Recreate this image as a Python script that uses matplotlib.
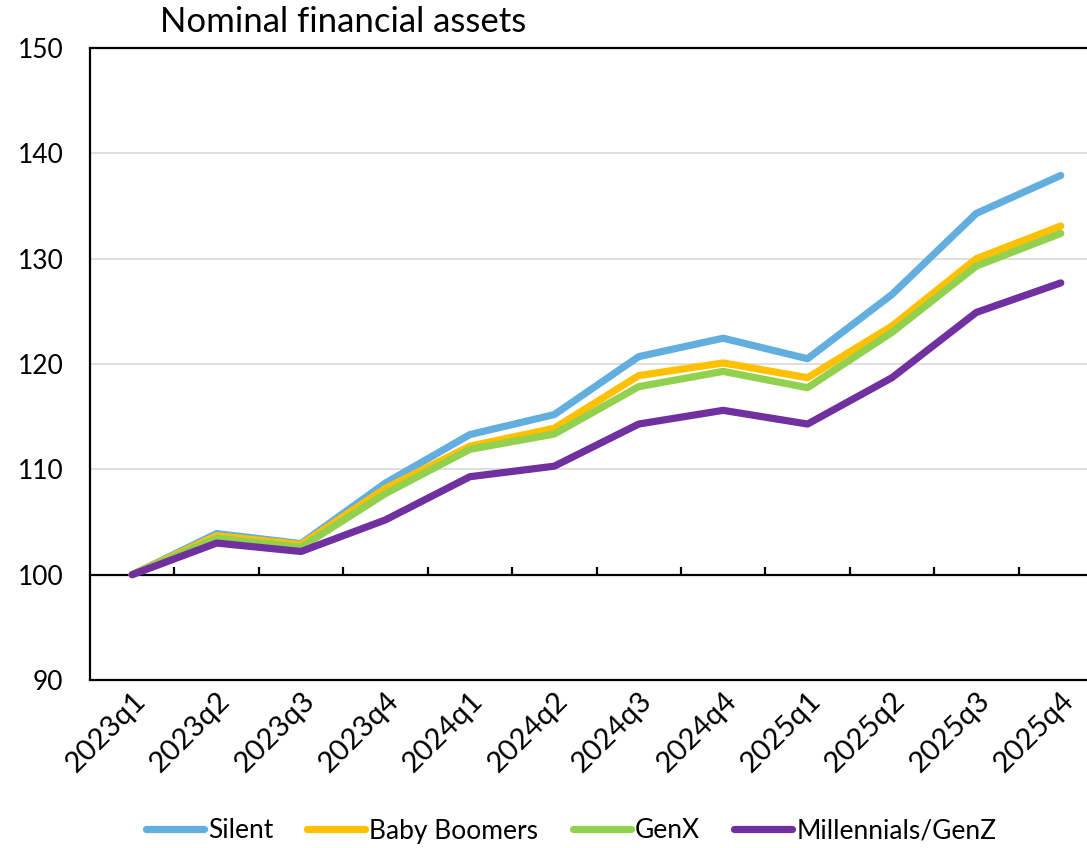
import matplotlib
matplotlib.use('Agg')
import matplotlib.pyplot as plt
import numpy as np

plt.rcParams['font.family'] = ['Lato', 'DejaVu Sans']

quarters = ['2023q1', '2023q2', '2023q3', '2023q4', '2024q1', '2024q2',
            '2024q3', '2024q4', '2025q1', '2025q2', '2025q3', '2025q4']
silent = [100, 103.9, 102.95, 108.7, 113.3, 115.2, 120.7, 122.45, 120.5, 126.6, 134.3, 137.9]
boomers = [100, 103.7, 102.85, 108.2, 112.2, 113.9, 118.9, 120.1, 118.7, 123.6, 130.0, 133.1]
genx = [100, 103.45, 102.6, 107.7, 111.9, 113.35, 117.85, 119.3, 117.75, 123.0, 129.3, 132.4]
millennials = [100, 103.0, 102.2, 105.2, 109.3, 110.3, 114.3, 115.6, 114.3, 118.7, 124.9, 127.7]

series_names = ['Silent', 'Baby Boomers', 'GenX', 'Millennials/GenZ']
series_values = [silent, boomers, genx, millennials]
colors = ['#62AEDF', '#FFC000', '#92D050', '#7030A0']

y_ticks = [90, 100, 110, 120, 130, 140, 150]
baseline = 100
title = 'Nominal financial assets'

W, H = 1087, 848
fig = plt.figure(figsize=(W / 100, H / 100), dpi=100)
ax = fig.add_axes([90 / W, 1 - 680 / H, 1013 / W, 632 / H])

x = np.arange(len(quarters))
for name, vals, c in zip(series_names, series_values, colors):
    ax.plot(x, vals, color=c, lw=5.2, label=name, solid_capstyle='round',
            solid_joinstyle='round', zorder=3)

ax.set_xlim(-0.5, len(quarters) - 0.5)
ax.set_ylim(y_ticks[0], y_ticks[-1])
ax.set_yticks(y_ticks)
ax.yaxis.grid(True, color='#D9D9D9', lw=1.2, zorder=0)
ax.set_axisbelow(True)
ax.tick_params(axis='y', length=0, pad=19, labelsize=19)
ax.set_xticks(x)
ax.set_xticklabels(quarters, rotation=45, ha='right', rotation_mode='anchor',
                   fontsize=21)
ax.tick_params(axis='x', length=0, pad=5)
for s in ['left', 'top', 'bottom']:
    ax.spines[s].set_color('black')
    ax.spines[s].set_linewidth(1.6)
ax.spines['right'].set_visible(False)

# baseline axis with between-category tick marks
loc = (baseline - y_ticks[0]) / (y_ticks[-1] - y_ticks[0])
sec = ax.secondary_xaxis(loc)
sec.set_zorder(2)
sec.set_xticks(x[:-1] + 0.5)
sec.tick_params(direction='in', length=5.5, width=1.6, labelbottom=False,
                color='black')
sec.spines['bottom'].set_linewidth(1.6)
sec.spines['bottom'].set_color('black')

fig.text(160 / W, 1 - 22 / H, title, fontsize=25, va='center', ha='left')

handles, labels = ax.get_legend_handles_labels()
fig.legend(handles, labels, loc='center', bbox_to_anchor=(571 / W, 1 - 831 / H),
           ncol=4, frameon=False, fontsize=19, handlelength=2.2,
           handletextpad=0.15, columnspacing=1.3)

fig.savefig('out.png', dpi=100)
